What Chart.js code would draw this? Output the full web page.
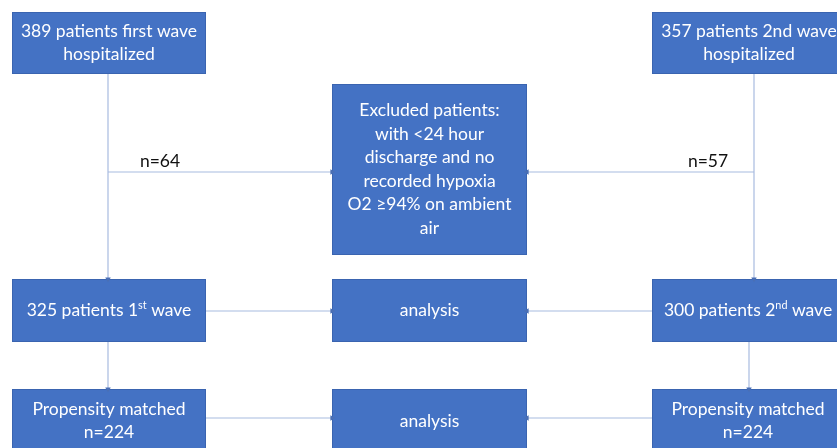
<!DOCTYPE html>
<html>
<head>
<meta charset="utf-8">
<script src="https://cdn.jsdelivr.net/npm/chart.js@4/dist/chart.umd.min.js"></script>
<style>
  html, body { margin: 0; padding: 0; background: #fff; }
  #wrap { width: 837px; height: 448px; }
</style>
</head>
<body>
<div id="wrap"><canvas id="flow"></canvas></div>
<script>
// Flowchart content
const nodeIds = ['hosp1', 'hosp2', 'excluded', 'wave1', 'analysis1', 'wave2', 'match1', 'analysis2', 'match2'];
const nodeLabels = [
  ['389 patients first wave', 'hospitalized'],
  ['357 patients 2nd wave', 'hospitalized'],
  ['Excluded patients:', 'with <24 hour', 'discharge and no', 'recorded hypoxia', 'O2 \u226594% on ambient', 'air'],
  ['325 patients 1^st wave'],
  ['analysis'],
  ['300 patients 2^nd wave'],
  ['Propensity matched', 'n=224'],
  ['analysis'],
  ['Propensity matched', 'n=224']
];
const linkFrom = ['hosp1', 'hosp1', 'hosp2', 'hosp2', 'wave1', 'wave2', 'wave1', 'wave2', 'match1', 'match2'];
const linkTo = ['wave1', 'excluded', 'wave2', 'excluded', 'analysis1', 'analysis1', 'match1', 'match2', 'analysis2', 'analysis2'];
const linkLabels = ['', 'n=64', '', 'n=57', '', '', '', '', '', ''];

// Layout (diagram units = pixels of the 837x448 page)
const layout = {
  boxes: {
    hosp1: [12, 206, 12, 74],
    hosp2: [652, 846, 12, 74],
    excluded: [332, 527, 84, 255],
    wave1: [12, 206, 279, 342],
    analysis1: [332, 527, 279, 342],
    wave2: [652, 846, 279, 342],
    match1: [12, 206, 389, 453],
    analysis2: [332, 527, 389, 453],
    match2: [652, 846, 389, 453]
  },
  paths: [
    [[108, 74], [108, 279]],
    [[108, 172], [332, 172]],
    [[754, 74], [754, 279]],
    [[754, 172], [527, 172]],
    [[206, 311], [332, 311]],
    [[652, 311], [527, 311]],
    [[108, 342], [108, 389]],
    [[749, 342], [749, 389]],
    [[206, 418], [332, 418]],
    [[652, 418], [527, 418]]
  ],
  labelPos: [null, [160, 161], null, [708, 161], null, null, null, null, null, null],
  textCenter: { hosp2: 749, wave2: 748, match2: 748 },
  lineHeight: 23.5
};

const boxFill = '#4472C4';
const lineColor = '#A8BBDF';
const arrowColor = '#4A6FB5';
const fontFamily = 'Lato, "Open Sans", sans-serif';
const fontSize = 17.5;

function arrowRotation(p0, p1) {
  if (p1[0] > p0[0]) return 90;
  if (p1[0] < p0[0]) return 270;
  return p1[1] > p0[1] ? 180 : 0;
}

const datasets = layout.paths.map((path, i) => ({
  label: linkFrom[i] + '->' + linkTo[i],
  data: path.map(p => ({ x: p[0], y: p[1] })),
  showLine: true,
  borderColor: lineColor,
  borderWidth: 1.2,
  pointRadius: [0, 3.2],
  pointStyle: 'triangle',
  rotation: [0, arrowRotation(path[0], path[1])],
  pointBackgroundColor: arrowColor,
  pointBorderColor: arrowColor,
  pointBorderWidth: 0,
  clip: false
}));

function drawRichLine(ctx, text, cx, cy) {
  // supports "^xx" superscript segments
  const parts = [];
  const re = /\^(\w+)/g;
  let last = 0, m;
  while ((m = re.exec(text)) !== null) {
    parts.push({ t: text.slice(last, m.index), sup: false });
    parts.push({ t: m[1], sup: true });
    last = m.index + m[0].length;
  }
  parts.push({ t: text.slice(last), sup: false });
  const normal = fontSize + 'px ' + fontFamily;
  const small = (fontSize * 0.62) + 'px ' + fontFamily;
  let total = 0;
  parts.forEach(p => {
    ctx.font = p.sup ? small : normal;
    p.w = ctx.measureText(p.t).width;
    total += p.w;
  });
  let x = cx - total / 2;
  ctx.textAlign = 'left';
  ctx.textBaseline = 'middle';
  parts.forEach(p => {
    ctx.font = p.sup ? small : normal;
    ctx.fillText(p.t, x, p.sup ? cy - fontSize * 0.3 : cy);
    x += p.w;
  });
}

const flowPlugin = {
  id: 'flowBoxes',
  beforeDatasetsDraw(chart) {
    const { ctx, scales: { x, y } } = chart;
    ctx.save();
    nodeIds.forEach((id, i) => {
      const b = layout.boxes[id];
      const px0 = x.getPixelForValue(b[0]);
      const px1 = x.getPixelForValue(b[1]);
      const py0 = y.getPixelForValue(b[2]);
      const py1 = y.getPixelForValue(b[3]);
      ctx.fillStyle = boxFill;
      ctx.fillRect(px0, py0, px1 - px0, py1 - py0);
      ctx.strokeStyle = '#3A64B0';
      ctx.lineWidth = 1;
      ctx.strokeRect(px0 + 0.5, py0 + 0.5, px1 - px0 - 1, py1 - py0 - 1);
      const lines = nodeLabels[i];
      const cx = x.getPixelForValue(layout.textCenter[id] !== undefined ? layout.textCenter[id] : (b[0] + b[1]) / 2);
      const cyMid = y.getPixelForValue((b[2] + b[3]) / 2);
      ctx.fillStyle = '#ffffff';
      lines.forEach((ln, k) => {
        const cy = cyMid + (k - (lines.length - 1) / 2) * layout.lineHeight;
        drawRichLine(ctx, ln, cx, cy);
      });
    });
    ctx.restore();
  },
  afterDatasetsDraw(chart) {
    const { ctx, scales: { x, y } } = chart;
    ctx.save();
    ctx.fillStyle = '#111111';
    ctx.font = fontSize + 'px ' + fontFamily;
    ctx.textAlign = 'center';
    ctx.textBaseline = 'middle';
    linkLabels.forEach((lbl, i) => {
      const pos = layout.labelPos[i];
      if (!lbl || !pos) return;
      ctx.fillText(lbl, x.getPixelForValue(pos[0]), y.getPixelForValue(pos[1]));
    });
    ctx.restore();
  }
};

new Chart(document.getElementById('flow'), {
  type: 'scatter',
  data: { datasets },
  plugins: [flowPlugin],
  options: {
    responsive: true,
    maintainAspectRatio: false,
    animation: false,
    layout: { padding: 0, autoPadding: false },
    scales: {
      x: { type: 'linear', min: 0, max: 837, display: false },
      y: { type: 'linear', min: 0, max: 448, reverse: true, display: false }
    },
    plugins: {
      legend: { display: false },
      tooltip: { enabled: false }
    },
    elements: { line: { tension: 0 } }
  }
});
</script>
</body>
</html>
